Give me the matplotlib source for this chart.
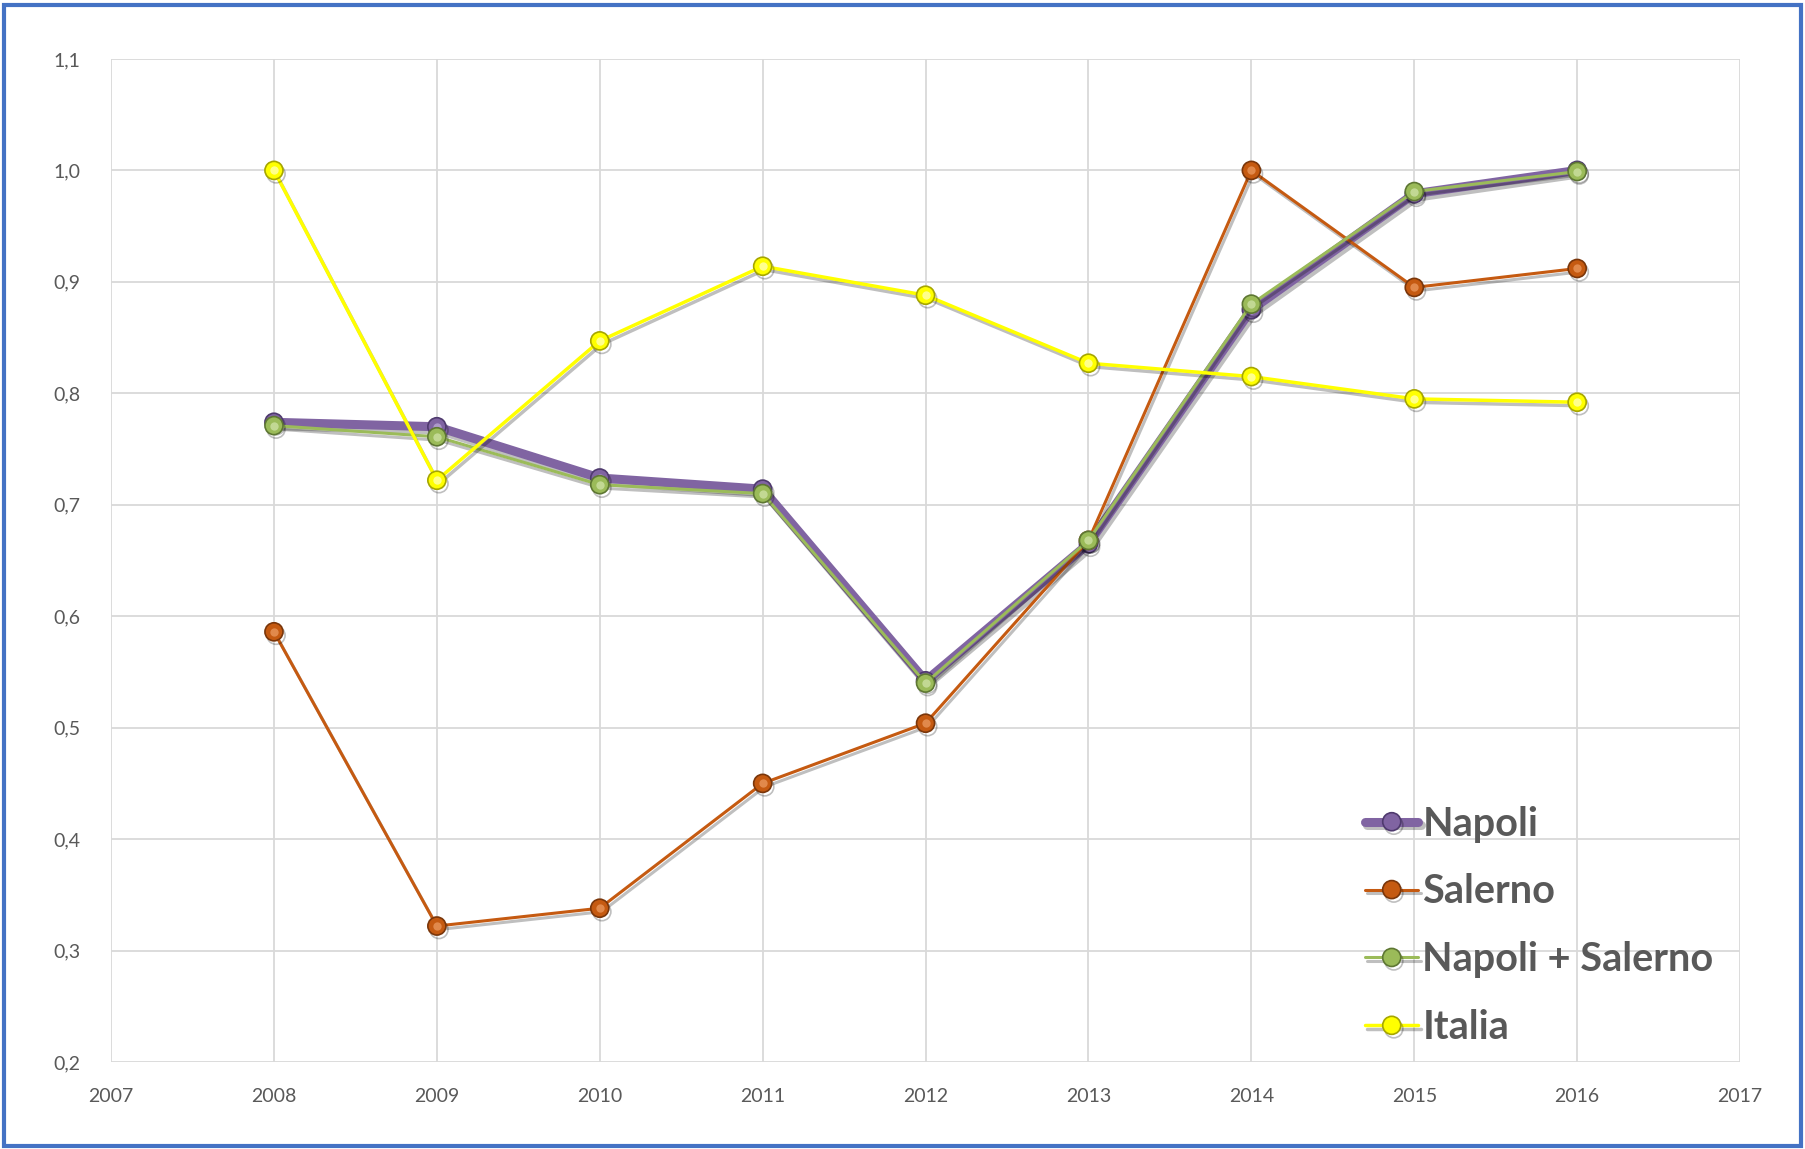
import matplotlib.pyplot as plt
import matplotlib.patheffects as pe
from matplotlib.patches import Rectangle

# years and index values
years = [2008, 2009, 2010, 2011, 2012, 2013, 2014, 2015, 2016]
napoli = [0.774, 0.770, 0.724, 0.714, 0.542, 0.665, 0.875, 0.979, 1.000]
salerno = [0.586, 0.322, 0.338, 0.450, 0.504, 0.668, 1.000, 0.895, 0.912]
napoli_salerno = [0.771, 0.761, 0.718, 0.710, 0.540, 0.668, 0.880, 0.981, 0.999]
italia = [1.000, 0.722, 0.847, 0.914, 0.888, 0.827, 0.815, 0.795, 0.792]

x_ticks = list(range(2007, 2018))
y_ticks = [0.2, 0.3, 0.4, 0.5, 0.6, 0.7, 0.8, 0.9, 1.0, 1.1]
y_labels = ["0,2", "0,3", "0,4", "0,5", "0,6", "0,7", "0,8", "0,9", "1,0", "1,1"]

plt.rcParams['font.family'] = ['Lato', 'DejaVu Sans']

fig = plt.figure(figsize=(18.06, 11.49), dpi=100)
ax = fig.add_axes([0.0615, 0.0757, 0.902, 0.873])

shadow = [pe.SimpleLineShadow(offset=(1.5, -2.5), shadow_color='k', alpha=0.25), pe.Normal()]

def draw(xs, ys, color, edge, light, lw, label, z):
    # line + sphere-like markers (base, edge, highlight)
    ln, = ax.plot(xs, ys, color=color, lw=lw, marker='o', ms=13, mfc=color,
                  mec=edge, mew=1.2, label=label, zorder=z,
                  path_effects=shadow, solid_capstyle='round')
    ax.plot(xs, ys, ls='none', marker='o', ms=6, mfc=light, mec='none',
            alpha=0.8, zorder=z + 0.1)
    return ln

h1 = draw(years, napoli, '#8064A2', '#4F3A6E', '#B9A7D4', 6.5, 'Napoli', 3)
h2 = draw(years, salerno, '#C55A11', '#7A360A', '#E9955A', 2.2, 'Salerno', 4)
h3 = draw(years, napoli_salerno, '#9BBB59', '#5E7733', '#CCE0A2', 2.2, 'Napoli + Salerno', 5)
h4 = draw(years, italia, '#FFFF00', '#A6A600', '#FFFFB0', 2.5, 'Italia', 6)

ax.set_xlim(2007, 2017)
ax.set_ylim(0.2, 1.1)
ax.set_xticks(x_ticks)
ax.set_yticks(y_ticks)
ax.set_yticklabels(y_labels)
ax.grid(True, color='#D9D9D9', lw=1.3)
ax.set_axisbelow(True)
for s in ax.spines.values():
    s.set_visible(False)
ax.tick_params(length=0, labelsize=14, labelcolor='#595959')
ax.tick_params(axis='y', pad=22)
ax.tick_params(axis='x', pad=19)

leg = ax.legend(handles=[h1, h2, h3, h4], loc='lower right',
                bbox_to_anchor=(0.9935, 0.0), frameon=False,
                prop={'size': 28.5, 'weight': 'bold'}, handlelength=1.35,
                handletextpad=0.1, labelspacing=0.78, borderaxespad=0)
for t in leg.get_texts():
    t.set_color('#595959')

# blue frame round the chart
fig.patches.append(Rectangle((0.002, 0.003), 0.995, 0.993, transform=fig.transFigure,
                             fill=False, edgecolor='#4472C4', lw=3))

plt.savefig('out.png', dpi=100)
